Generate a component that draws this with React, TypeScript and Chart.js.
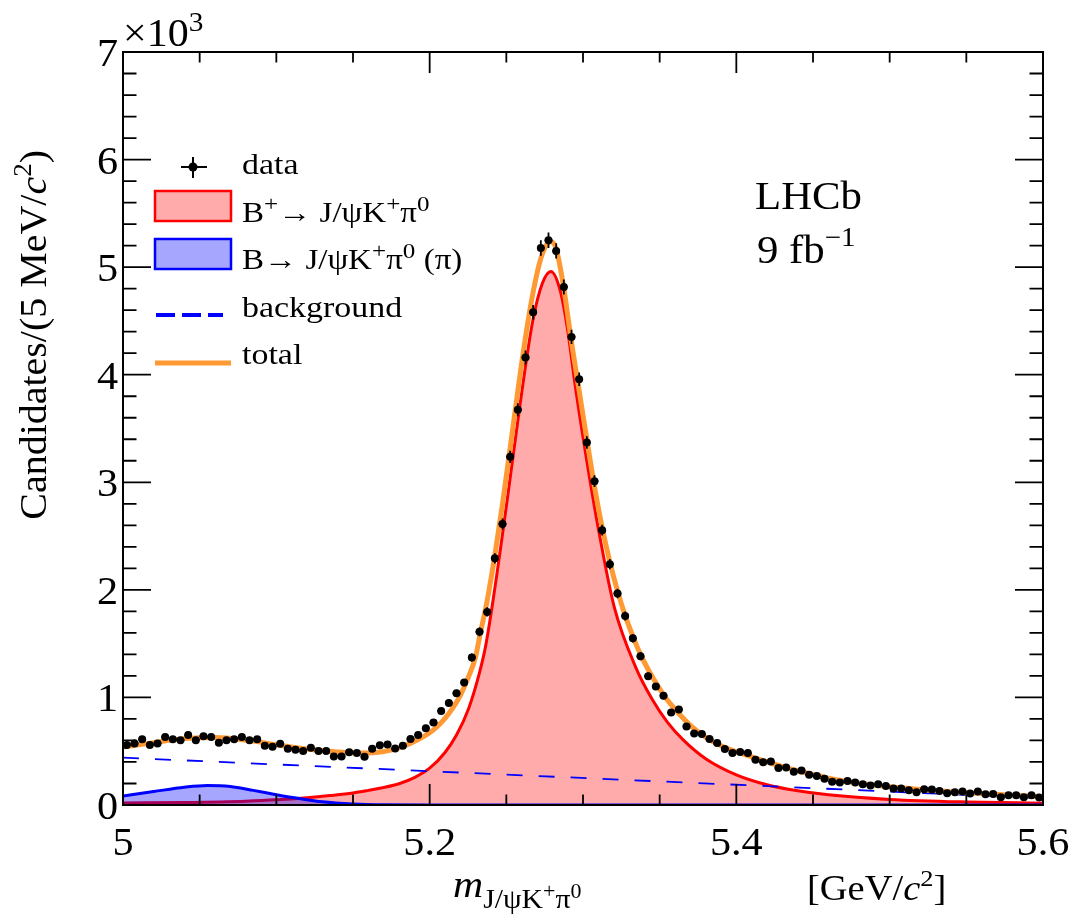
import React, { useEffect, useRef } from 'react';
import { Chart, registerables } from 'chart.js';

Chart.register(...registerables);

// ---------------- data ----------------
const BIN_LOW = 5.0;
const BIN_WIDTH = 0.005;

// candidates per 5 MeV bin, bins from 5.000 to 5.600 GeV
const dataCounts = [
  557, 572, 612, 557, 572, 631, 612, 603, 650, 603,
  640, 631, 578, 603, 612, 631, 603, 612, 550, 541,
  569, 523, 513, 501, 532, 501, 501, 451, 451, 490,
  484, 448, 522, 555, 562, 525, 550, 614, 650, 714,
  766, 875, 949, 1039, 1138, 1372, 1610, 1795, 2293, 2612,
  3237, 3675, 4160, 4580, 5179, 5250, 5151, 4816, 4351, 3958,
  3370, 3010, 2555, 2239, 1966, 1758, 1549, 1383, 1198, 1102,
  1016, 859, 888, 730, 665, 659, 613, 577, 520, 483,
  492, 483, 420, 398, 404, 345, 348, 310, 320, 282,
  270, 245, 216, 210, 223, 210, 194, 182, 194, 176,
  154, 154, 138, 119, 147, 144, 129, 110, 119, 125,
  107, 125, 100, 103, 72, 91, 91, 72, 91, 69,
];

// total fit (orange)
const totalMass = [
  5.0, 5.02, 5.04, 5.06, 5.08, 5.1, 5.12, 5.14, 5.155, 5.17,
  5.18, 5.19, 5.2, 5.205, 5.21, 5.215, 5.22, 5.225, 5.23, 5.2325,
  5.2375, 5.2425, 5.2475, 5.2525, 5.2575, 5.2625, 5.2675, 5.2725, 5.2775, 5.279,
  5.2825, 5.2875, 5.2925, 5.2975, 5.3025, 5.3075, 5.3125, 5.3175, 5.3225, 5.3275,
  5.3325, 5.3375, 5.3425, 5.35, 5.355, 5.36, 5.37, 5.38, 5.39, 5.4,
  5.41, 5.42, 5.43, 5.44, 5.46, 5.48, 5.5, 5.52, 5.54, 5.56,
  5.58, 5.6,
];
const totalVals = [
  538, 580, 617, 628, 604, 560, 520, 492, 484, 498,
  532, 590, 672, 730, 805, 900, 1020, 1180, 1380, 1560,
  1900, 2320, 2800, 3320, 3850, 4350, 4770, 5080, 5230, 5236,
  5170, 4800, 4300, 3850, 3400, 2960, 2580, 2260, 1990, 1760,
  1570, 1400, 1260, 1080, 975, 890, 740, 630, 550, 495,
  448, 402, 357, 318, 250, 203, 170, 144, 123, 106,
  91, 78,
];

// B+ -> J/psi K+ pi0 signal (red)
const signalMass = [
  5.0, 5.04, 5.08, 5.1, 5.12, 5.135, 5.15, 5.16, 5.17, 5.18,
  5.19, 5.2, 5.21, 5.2175, 5.2255, 5.2325, 5.2368, 5.2454, 5.2526, 5.2596,
  5.2671, 5.2735, 5.2791, 5.285, 5.2895, 5.2954, 5.3036, 5.3105, 5.3203, 5.3344,
  5.345, 5.355, 5.365, 5.38, 5.4, 5.42, 5.44, 5.46, 5.5, 5.55,
  5.6,
];
const signalVals = [
  18, 24, 36, 48, 68, 88, 112, 136, 163, 198,
  255, 342, 488, 650, 900, 1230, 1500, 2300, 3050, 3790,
  4490, 4850, 4960, 4790, 4460, 3850, 3100, 2530, 1845, 1280,
  985, 770, 610, 430, 280, 188, 132, 95, 52, 28,
  17,
];

// B -> J/psi K+ pi0 (pi) partially reconstructed (blue)
const partMass = [5.0, 5.02, 5.04, 5.055, 5.07, 5.085, 5.1, 5.115, 5.13, 5.15, 5.17, 5.2, 5.6];
const partVals = [84, 125, 165, 181, 172, 136, 96, 60, 30, 10, 2, 0, 0];

// combinatorial background (blue dashed)
const bkgMass = [5.0, 5.6];
const bkgVals = [440, 62];

// axes
const xMin = 5.0;
const xMax = 5.6;
const yMin = 0;
const yMax = 7000;
const xMajorTicks = [5.0, 5.2, 5.4, 5.6];
const xTickLabels = ['5', '5.2', '5.4', '5.6'];
const xMinorStep = 0.05;
const yMajorTicks = [0, 1000, 2000, 3000, 4000, 5000, 6000, 7000];
const yTickLabels = ['0', '1', '2', '3', '4', '5', '6', '7'];
const yMinorStep = 200;

// ---------------- styling ----------------
const SERIF = '"Liberation Serif", "Times New Roman", "DejaVu Serif", serif';
const ORANGE = '#ff9933';
const RED = '#ff0000';
const BLUE = '#0000ff';
const RED_FILL = 'rgba(255,0,0,0.33)';
const BLUE_FILL = 'rgba(0,0,255,0.35)';

type Seg = { t: string; s: number; it?: boolean; up?: number };

function fontOf(seg: Seg) {
  return `${seg.it ? 'italic ' : ''}${seg.s}px ${SERIF}`;
}

function richWidth(ctx: CanvasRenderingContext2D, segs: Seg[]) {
  let w = 0;
  for (const sg of segs) {
    ctx.font = fontOf(sg);
    w += ctx.measureText(sg.t).width;
  }
  return w;
}

function drawRich(
  ctx: CanvasRenderingContext2D,
  segs: Seg[],
  x: number,
  y: number,
  sx = 1,
  align: 'left' | 'center' | 'right' = 'left'
) {
  ctx.save();
  ctx.translate(x, y);
  ctx.scale(sx, 1);
  ctx.textBaseline = 'alphabetic';
  ctx.textAlign = 'left';
  ctx.fillStyle = '#000';
  const w = richWidth(ctx, segs);
  let cx = align === 'left' ? 0 : align === 'center' ? -w / 2 : -w;
  for (const sg of segs) {
    ctx.font = fontOf(sg);
    ctx.fillText(sg.t, cx, -(sg.up || 0));
    cx += ctx.measureText(sg.t).width;
  }
  ctx.restore();
}

const overlayPlugin = {
  id: 'overlay',
  afterDatasetsDraw(chart: any) {
    const ctx: CanvasRenderingContext2D = chart.ctx;
    const xs = chart.scales.x;
    const ys = chart.scales.y;
    const area = chart.chartArea;
    ctx.save();
    ctx.beginPath();
    ctx.rect(area.left, area.top, area.right - area.left, area.bottom - area.top);
    ctx.clip();
    ctx.strokeStyle = '#000';
    ctx.lineWidth = 1.8;
    dataCounts.forEach((n, i) => {
      const xc = BIN_LOW + BIN_WIDTH * (i + 0.5);
      const px = xs.getPixelForValue(xc);
      const err = Math.sqrt(n);
      const y1 = ys.getPixelForValue(n - err);
      const y2 = ys.getPixelForValue(n + err);
      const xl = xs.getPixelForValue(xc - BIN_WIDTH / 2);
      const xr = xs.getPixelForValue(xc + BIN_WIDTH / 2);
      const py = ys.getPixelForValue(n);
      ctx.beginPath();
      ctx.moveTo(px, y1);
      ctx.lineTo(px, y2);
      ctx.moveTo(xl, py);
      ctx.lineTo(xr, py);
      ctx.stroke();
    });
    ctx.restore();
  },
  afterDraw(chart: any) {
    const ctx: CanvasRenderingContext2D = chart.ctx;
    const xs = chart.scales.x;
    const ys = chart.scales.y;
    const a = chart.chartArea;
    ctx.save();
    ctx.strokeStyle = '#000';
    ctx.lineWidth = 2;
    ctx.lineCap = 'butt';

    // frame
    ctx.strokeRect(a.left, a.top, a.right - a.left, a.bottom - a.top);

    // x ticks (bottom and top, pointing inwards)
    ctx.lineWidth = 1.8;
    const nX = Math.round((xMax - xMin) / xMinorStep);
    for (let k = 0; k <= nX; k++) {
      const v = xMin + k * xMinorStep;
      const major = xMajorTicks.some((t) => Math.abs(t - v) < 1e-6);
      const len = major ? 21 : 10.5;
      const px = xs.getPixelForValue(v);
      ctx.beginPath();
      ctx.moveTo(px, a.bottom);
      ctx.lineTo(px, a.bottom - len);
      ctx.moveTo(px, a.top);
      ctx.lineTo(px, a.top + len);
      ctx.stroke();
    }
    // y ticks (left and right)
    const nY = Math.round((yMax - yMin) / yMinorStep);
    for (let k = 0; k <= nY; k++) {
      const v = yMin + k * yMinorStep;
      const major = yMajorTicks.some((t) => Math.abs(t - v) < 1e-6);
      const len = major ? 28 : 13.5;
      const py = ys.getPixelForValue(v);
      ctx.beginPath();
      ctx.moveTo(a.left, py);
      ctx.lineTo(a.left + len, py);
      ctx.moveTo(a.right, py);
      ctx.lineTo(a.right - len, py);
      ctx.stroke();
    }

    // tick labels
    ctx.fillStyle = '#000';
    xMajorTicks.forEach((t, i) => {
      drawRich(ctx, [{ t: xTickLabels[i], s: 41 }], xs.getPixelForValue(t), a.bottom + 50, 1.03, 'center');
    });
    yMajorTicks.forEach((t, i) => {
      drawRich(ctx, [{ t: yTickLabels[i], s: 41 }], a.left - 5, ys.getPixelForValue(t) + 14, 1.03, 'right');
    });

    // x10^3
    drawRich(ctx, [{ t: '×10', s: 40 }, { t: '3', s: 28, up: 15 }], a.left, 46, 1.05, 'left');

    // y axis title (rotated)
    ctx.save();
    ctx.translate(46, 150);
    ctx.rotate(-Math.PI / 2);
    drawRich(
      ctx,
      [
        { t: 'Candidates/(5 MeV/', s: 37 },
        { t: 'c', s: 37, it: true },
        { t: '2', s: 25, up: 15 },
        { t: ')', s: 37 },
      ],
      0,
      0,
      1.08,
      'right'
    );
    ctx.restore();

    // x axis title
    drawRich(
      ctx,
      [
        { t: 'm', s: 38, it: true },
        { t: 'J/ψK', s: 27, up: -11 },
        { t: '+', s: 20, up: -1 },
        { t: 'π', s: 27, up: -11 },
        { t: '0', s: 20, up: -1 },
      ],
      453,
      897,
      1.1,
      'left'
    );
    drawRich(
      ctx,
      [
        { t: '[GeV/', s: 35 },
        { t: 'c', s: 35, it: true },
        { t: '2', s: 24, up: 14 },
        { t: ']', s: 35 },
      ],
      807,
      900,
      1.1,
      'left'
    );

    // LHCb label
    drawRich(ctx, [{ t: 'LHCb', s: 40 }], 755, 209, 1.07, 'left');
    drawRich(ctx, [{ t: '9 fb', s: 40 }, { t: '−1', s: 27, up: 17 }], 757, 263, 1.07, 'left');

    // legend
    const LX = 242;
    const LS = 29;
    const SUP = 22;
    const SUPUP = 11;
    // data marker
    ctx.strokeStyle = '#000';
    ctx.lineWidth = 2;
    ctx.beginPath();
    ctx.moveTo(193, 157);
    ctx.lineTo(193, 178);
    ctx.moveTo(181, 167);
    ctx.lineTo(207, 167);
    ctx.stroke();
    ctx.beginPath();
    ctx.arc(193, 167, 4.5, 0, Math.PI * 2);
    ctx.fillStyle = '#000';
    ctx.fill();
    drawRich(ctx, [{ t: 'data', s: LS }], LX, 174, 1.17);

    // signal box
    ctx.fillStyle = RED_FILL;
    ctx.fillRect(155, 191, 76, 30);
    ctx.strokeStyle = RED;
    ctx.lineWidth = 2.5;
    ctx.strokeRect(155, 191, 76, 30);
    drawRich(
      ctx,
      [
        { t: 'B', s: LS },
        { t: '+', s: SUP, up: SUPUP },
        { t: '→ J/ψK', s: LS },
        { t: '+', s: SUP, up: SUPUP },
        { t: 'π', s: LS },
        { t: '0', s: SUP, up: SUPUP },
      ],
      LX,
      222,
      1.14
    );

    // part-reco box
    ctx.fillStyle = BLUE_FILL;
    ctx.fillRect(155, 239, 76, 30);
    ctx.strokeStyle = BLUE;
    ctx.lineWidth = 2.5;
    ctx.strokeRect(155, 239, 76, 30);
    drawRich(
      ctx,
      [
        { t: 'B→ J/ψK', s: LS },
        { t: '+', s: SUP, up: SUPUP },
        { t: 'π', s: LS },
        { t: '0', s: SUP, up: SUPUP },
        { t: ' (π)', s: LS },
      ],
      LX,
      269,
      1.14
    );

    // background dashed
    ctx.strokeStyle = BLUE;
    ctx.lineWidth = 4;
    ctx.setLineDash([19, 7]);
    ctx.beginPath();
    ctx.moveTo(156, 315);
    ctx.lineTo(223, 315);
    ctx.stroke();
    ctx.setLineDash([]);
    drawRich(ctx, [{ t: 'background', s: LS }], LX, 317, 1.17);

    // total
    ctx.strokeStyle = ORANGE;
    ctx.lineWidth = 5;
    ctx.beginPath();
    ctx.moveTo(155, 363);
    ctx.lineTo(231, 363);
    ctx.stroke();
    drawRich(ctx, [{ t: 'total', s: LS }], LX, 364, 1.17);

    ctx.restore();
  },
};

function pts(xs: number[], ys: number[]) {
  return xs.map((x, i) => ({ x, y: ys[i] }));
}

export default function App() {
  const canvasRef = useRef<HTMLCanvasElement | null>(null);

  useEffect(() => {
    if (!canvasRef.current) return;
    const dataPts = dataCounts.map((n, i) => ({ x: BIN_LOW + BIN_WIDTH * (i + 0.5), y: n }));
    const chart = new Chart(canvasRef.current, {
      type: 'line',
      data: {
        datasets: [
          {
            label: 'data',
            data: dataPts,
            showLine: false,
            pointRadius: 4,
            pointBackgroundColor: '#000',
            pointBorderColor: '#000',
            pointBorderWidth: 0,
            order: 0,
          } as any,
          {
            label: 'total',
            data: pts(totalMass, totalVals),
            borderColor: ORANGE,
            borderWidth: 5,
            pointRadius: 0,
            fill: false,
            cubicInterpolationMode: 'monotone',
            order: 1,
          },
          {
            label: 'background',
            data: pts(bkgMass, bkgVals),
            borderColor: BLUE,
            borderWidth: 1.8,
            borderDash: [16, 16],
            pointRadius: 0,
            fill: false,
            order: 2,
          },
          {
            label: 'B → J/ψK+π0 (π)',
            data: pts(partMass, partVals),
            borderColor: BLUE,
            borderWidth: 3,
            backgroundColor: BLUE_FILL,
            fill: 'origin',
            pointRadius: 0,
            cubicInterpolationMode: 'monotone',
            order: 3,
          },
          {
            label: 'B+ → J/ψK+π0',
            data: pts(signalMass, signalVals),
            borderColor: RED,
            borderWidth: 3,
            backgroundColor: RED_FILL,
            fill: 'origin',
            pointRadius: 0,
            cubicInterpolationMode: 'monotone',
            order: 4,
          },
        ],
      },
      options: {
        animation: false,
        responsive: true,
        maintainAspectRatio: false,
        layout: { padding: { left: 123, right: 29, top: 52, bottom: 112 } },
        plugins: {
          legend: { display: false },
          tooltip: { enabled: false },
          title: { display: false },
        },
        scales: {
          x: { type: 'linear', min: xMin, max: xMax, display: false },
          y: { type: 'linear', min: yMin, max: yMax, display: false },
        },
        events: [],
      },
      plugins: [overlayPlugin],
    });
    const fonts = (document as any).fonts;
    if (fonts && fonts.load) {
      Promise.all([
        fonts.load(`30px "Liberation Serif"`),
        fonts.load(`italic 30px "Liberation Serif"`),
      ])
        .then(() => chart.draw())
        .catch(() => undefined);
    }
    return () => chart.destroy();
  }, []);

  return (
    <div style={{ position: 'fixed', left: 0, top: 0, width: 1072, height: 917, background: '#fff' }}>
      <canvas ref={canvasRef} />
    </div>
  );
}
